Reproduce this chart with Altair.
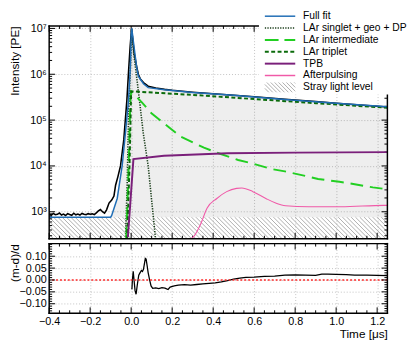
import altair as alt
import pandas as pd
import numpy as np

# ---------------- data ----------------
# measured data (black)
data_t = [-0.40, -0.39, -0.38, -0.37, -0.36, -0.35, -0.34, -0.33, -0.32, -0.31,
          -0.30, -0.29, -0.28, -0.27, -0.26, -0.25, -0.24, -0.23, -0.22, -0.21,
          -0.20, -0.19, -0.18, -0.17, -0.16, -0.15, -0.14, -0.13,
          -0.12, -0.108, -0.095, -0.084, -0.076, -0.064, -0.052, -0.036, -0.021,
          -0.012, -0.005, 0.002, 0.008, 0.015, 0.027, 0.035, 0.045, 0.060, 0.083,
          0.12, 0.163, 0.20, 0.30, 0.40, 0.50, 0.60, 0.75, 0.90, 1.00, 1.10, 1.25]
data_v = [8.9e2, 8.4e2, 9.2e2, 8.6e2, 8.8e2, 9.4e2, 8.5e2, 8.9e2, 8.3e2, 9.1e2,
          8.7e2, 8.4e2, 9.3e2, 8.6e2, 8.9e2, 8.5e2, 9.2e2, 8.8e2, 8.6e2, 9.1e2,
          8.8e2, 9.0e2, 8.7e2, 9.5e2, 1.04e3, 1.12e3, 1.0e3, 9.3e2,
          1.1e3, 1.55e3, 1.8e3, 2.2e3, 3.8e3, 6.0e3, 1.0e4, 3.7e4, 2.7e5,
          1.3e6, 4.0e6, 9.8e6, 5.6e6, 2.8e6, 1.45e6, 1.0e6, 7.9e5, 6.6e5, 5.5e5,
          5.0e5, 4.68e5, 4.47e5, 4.07e5, 3.76e5, 3.5e5, 3.24e5, 2.85e5, 2.54e5, 2.34e5, 2.16e5, 1.93e5]

# full fit (blue)
fit_t = [-0.40, -0.10, -0.095, -0.068, -0.044, -0.028, -0.013, -0.004, 0.0, 0.003,
         0.011, 0.027, 0.035, 0.060, 0.083, 0.163, 0.30, 0.50, 0.75, 1.00, 1.25]
fit_v = [7.6e2, 7.6e2, 8.3e2, 1.95e3, 1.0e4, 5.2e4, 2.7e5, 1.4e6, 7.2e6, 1.0e7,
         5.1e6, 1.4e6, 9.1e5, 6.2e5, 5.1e5, 4.6e5, 4.0e5, 3.47e5, 2.82e5, 2.34e5, 1.95e5]

# LAr singlet + geo + DP
sing_t = [-0.028, -0.020, -0.012, -0.004, 0.003, 0.011, 0.027, 0.040, 0.059, 0.083, 0.099, 0.118]
sing_v = [2.5e2, 3.2e3, 1.6e5, 1.3e6, 9.5e6, 3.2e6, 8.5e5, 2.8e5, 5.2e4, 1.0e4, 1.95e3, 2.8e2]

# LAr intermediate
inter_t = [-0.024, -0.012, -0.004, 0.0, 0.05, 0.099, 0.187, 0.241, 0.355, 0.418, 0.522,
           0.586, 0.689, 0.75, 0.854, 0.912, 1.016, 1.077, 1.179, 1.25]
inter_v = [2.5e2, 1.0e4, 2.8e5, 4.2e5, 2.5e5, 1.41e5, 6.8e4, 4.4e4, 2.5e4, 1.95e4, 1.35e4,
           1.15e4, 8.5e3, 7.6e3, 6.0e3, 5.2e3, 4.5e3, 4.1e3, 3.4e3, 3.1e3]

# LAr triplet
trip_t = [-0.020, -0.008, 0.0, 0.30, 0.60, 0.90, 1.25]
trip_v = [2.5e2, 1.0e4, 4.25e5, 3.55e5, 2.88e5, 2.34e5, 1.86e5]

# TPB
tpb_t = [-0.016, 0.011, 0.16, 0.47, 0.80, 1.25]
tpb_v = [2.8e2, 1.41e4, 1.66e4, 1.9e4, 1.95e4, 2.0e4]

# Afterpulsing
ap_t = [0.283, 0.307, 0.338, 0.370, 0.418, 0.466, 0.514, 0.540, 0.594, 0.657, 0.705,
        0.753, 0.865, 1.024, 1.232, 1.25]
ap_v = [2.5e2, 2.95e2, 5.25e2, 1.2e3, 1.95e3, 2.75e3, 3.24e3, 3.31e3, 2.75e3, 1.95e3, 1.55e3,
        1.35e3, 1.29e3, 1.29e3, 1.38e3, 1.38e3]

# stray light level
STRAY = 7.6e2

# residual (m-d)/d
res_t = [0.003, 0.004, 0.006, 0.010, 0.014, 0.019, 0.024, 0.030, 0.037, 0.043,
         0.050, 0.055, 0.060, 0.065, 0.069, 0.073, 0.078, 0.083, 0.090, 0.097,
         0.105, 0.120, 0.135, 0.150, 0.165, 0.180, 0.190, 0.210, 0.230, 0.260,
         0.290, 0.320, 0.350, 0.380, 0.410, 0.440, 0.470, 0.500, 0.530, 0.560,
         0.600, 0.650, 0.700, 0.750, 0.800, 0.850, 0.900, 0.930, 0.960, 1.000,
         1.050, 1.090, 1.150, 1.200, 1.250]
res_v = [-0.040, -0.035, 0.000, 0.036, 0.000, -0.045, -0.060, -0.020, 0.020, 0.030,
         0.040, 0.036, 0.045, 0.070, 0.091, 0.088, 0.060, 0.030, 0.000, -0.025,
         -0.035, -0.033, -0.036, -0.032, -0.034, -0.040, -0.030, -0.025, -0.022, -0.020,
         -0.022, -0.019, -0.016, -0.014, -0.012, -0.008, -0.003, 0.004, 0.008, 0.011,
         0.012, 0.015, 0.016, 0.020, 0.021, 0.020, 0.019, 0.025, 0.025, 0.024,
         0.023, 0.020, 0.020, 0.019, 0.018]

x_major = [-0.4, -0.2, 0.0, 0.2, 0.4, 0.6, 0.8, 1.0, 1.2]
y_major = [1e3, 1e4, 1e5, 1e6, 1e7]
r_major = [-0.10, -0.05, 0.0, 0.05, 0.10]

legend_labels = ["Full fit", "LAr singlet + geo + DP", "LAr intermediate", "LAr triplet",
                 "TPB", "Afterpulsing", "Stray light level"]

# ---------------- layout / style ----------------
W, HT, HB = 345, 217, 71
XD = [-0.4, 1.25]
YD = [258, 1.13e7]
RD = [-0.14, 0.153]
FONT = "Liberation Sans"

C_FIT = "#1f6db5"
C_SING = "#1a3d1a"
C_INT = "#22cf22"
C_TRIP = "#0b6b0b"
C_TPB = "#7a1f7a"
C_AP = "#f05aa8"

xs = alt.Scale(domain=XD, nice=False, zero=False)
ys = alt.Scale(type="log", domain=YD, nice=False)
rs = alt.Scale(domain=RD, nice=False, zero=False)

GRID = dict(grid=True, gridColor="#b4b4b4", gridDash=[1, 2], gridWidth=0.8,
            labelOverlap=False, labelFlush=False)
sup = "['⁰','¹','²','³','⁴','⁵','⁶','⁷','⁸','⁹']"

AX_XT = alt.Axis(values=x_major, labels=False, ticks=False, domain=False, title=None, **GRID)
AX_YT = alt.Axis(values=y_major, ticks=False, domain=False, labelPadding=3,
                 labelExpr="'10' + " + sup + "[round(log(datum.value)/LN10)]",
                 title="Intensity [PE]", titleAnchor="end", titleX=-35,
                 titleBaseline="middle", **GRID)
AX_XB = alt.Axis(values=x_major, ticks=False, domain=False, labelPadding=3,
                 labelExpr="replace(format(datum.value, '.1f'), '-', '−')",
                 title="Time [μs]", titleAnchor="end", titlePadding=2, **GRID)
AX_YB = alt.Axis(values=r_major, ticks=False, domain=False, labelPadding=3,
                 labelExpr="replace(format(datum.value, '.2f'), '-', '−')",
                 title="(m-d)/d", titleAnchor="end", titleX=-35,
                 titleBaseline="middle", **GRID)

x_minor = [round(v, 2) for v in np.arange(-0.35, 1.249, 0.05)
           if all(abs(v - m) > 1e-6 for m in x_major)]
y_minor = [k * 10 ** n for n in range(2, 7) for k in range(2, 10)
           if YD[0] <= k * 10 ** n <= YD[1]]
r_minor = [round(v, 2) for v in np.arange(-0.13, 0.151, 0.01)
           if all(abs(v - m) > 1e-6 for m in r_major)]

MAJ, MIN = 6, 3
one = pd.DataFrame({"k": [0]})


def xticks(vals, L, H, ax):
    df = pd.DataFrame({"v": vals})
    base = alt.Chart(df).mark_rule(color="black", strokeWidth=1)
    return [
        base.encode(x=alt.X("v:Q", scale=xs, axis=ax), y=alt.value(H - L), y2=alt.value(H)),
        base.encode(x=alt.X("v:Q", scale=xs, axis=ax), y=alt.value(0), y2=alt.value(L)),
    ]


def yticks(vals, L, scale, ax, field):
    df = pd.DataFrame({field: vals})
    base = alt.Chart(df).mark_rule(color="black", strokeWidth=1)
    return [
        base.encode(y=alt.Y(field + ":Q", scale=scale, axis=ax), x=alt.value(0), x2=alt.value(L)),
        base.encode(y=alt.Y(field + ":Q", scale=scale, axis=ax), x=alt.value(W - L), x2=alt.value(W)),
    ]


def frame(H):
    base = alt.Chart(one).mark_rule(color="black", strokeWidth=1.5, strokeCap="square")
    return [
        base.encode(x=alt.value(0), x2=alt.value(W), y=alt.value(0)),
        base.encode(x=alt.value(0), x2=alt.value(W), y=alt.value(H)),
        base.encode(x=alt.value(0), y=alt.value(0), y2=alt.value(H)),
        base.encode(x=alt.value(W), y=alt.value(0), y2=alt.value(H)),
    ]


def series(t, v, color, width, dash=None, interp="linear"):
    kw = dict(color=color, strokeWidth=width, clip=True, interpolate=interp)
    if dash:
        kw["strokeDash"] = dash
    return alt.Chart(pd.DataFrame({"t": t, "v": v})).mark_line(**kw).encode(
        x=alt.X("t:Q", scale=xs, axis=AX_XT),
        y=alt.Y("v:Q", scale=ys, axis=AX_YT),
    )


# grey area between stray level and full fit
area = alt.Chart(pd.DataFrame({"t": fit_t, "v": fit_v})).mark_area(
    fill="#000", fillOpacity=0.065, clip=True
).encode(
    x=alt.X("t:Q", scale=xs, axis=AX_XT),
    y=alt.Y("v:Q", scale=ys, axis=AX_YT),
    y2=alt.datum(STRAY),
)

# hatching of the stray-light region
ppu = W / (XD[1] - XD[0])
hat_h = (np.log10(STRAY) - np.log10(YD[0])) / (np.log10(YD[1]) - np.log10(YD[0])) * HT
dx = hat_h / ppu
hx = np.arange(XD[0] - dx, XD[1], 4.4 / ppu)
hatch = alt.Chart(pd.DataFrame({"t": hx, "b": hx + dx, "v": STRAY, "bot": YD[0]})).mark_rule(
    color="#8a8a8a", strokeWidth=0.7, clip=True
).encode(
    x=alt.X("t:Q", scale=xs, axis=AX_XT), x2="b:Q",
    y=alt.Y("v:Q", scale=ys, axis=AX_YT), y2="bot:Q",
)

top_layers = [area, hatch]
top_layers += xticks(x_major, MAJ, HT, AX_XT) + xticks(x_minor, MIN, HT, AX_XT)
top_layers += yticks(y_major, MAJ, ys, AX_YT, "v") + yticks(y_minor, MIN, ys, AX_YT, "v")
top_layers += [
    series(data_t, data_v, "black", 1.6),
    series(sing_t, sing_v, C_SING, 1.6, [1.3, 1.3]),
    series(inter_t, inter_v, C_INT, 2, [13, 7]),
    series(trip_t, trip_v, C_TRIP, 2, [4, 2.5]),
    series(tpb_t, tpb_v, C_TPB, 2),
    series(ap_t, ap_v, C_AP, 1.1, interp="monotone"),
    series(fit_t, fit_v, C_FIT, 1.5),
]
top_layers += frame(HT)

# legend (top right, opaque box partly above the frame)
SX0, SX1, TX = 220, 251, 259
BOX_X0, BOX_X1, BOX_Y1 = 214, 362, 70
rows = [-10 + 12.1 * i for i in range(7)]
top_layers.append(alt.Chart(one).mark_rect(fill="white").encode(
    x=alt.value(BOX_X0), x2=alt.value(BOX_X1), y=alt.value(-14), y2=alt.value(BOX_Y1)))
styles = [
    dict(color=C_FIT, strokeWidth=1.5),
    dict(color=C_SING, strokeWidth=1.6, strokeDash=[1.3, 1.3]),
    dict(color=C_INT, strokeWidth=2, strokeDash=[14, 6]),
    dict(color=C_TRIP, strokeWidth=2, strokeDash=[4, 2.5]),
    dict(color=C_TPB, strokeWidth=2),
    dict(color=C_AP, strokeWidth=1.5),
    None,
]
for lab, st, yy in zip(legend_labels, styles, rows):
    if st is not None:
        top_layers.append(alt.Chart(one).mark_rule(**st).encode(
            x=alt.value(SX0), x2=alt.value(SX1), y=alt.value(yy)))
    else:
        t0, b0 = yy - 5, yy + 5
        for x0 in range(SX0 - 10, SX1, 4):
            xa, ya, xb, yb = x0, t0, x0 + 10, b0
            if xa < SX0:
                ya += SX0 - xa
                xa = SX0
            if xb > SX1:
                yb -= xb - SX1
                xb = SX1
            top_layers.append(alt.Chart(one).mark_rule(color="#8a8a8a", strokeWidth=0.7).encode(
                x=alt.value(xa), x2=alt.value(xb), y=alt.value(ya), y2=alt.value(yb)))
    top_layers.append(alt.Chart(one).mark_text(
        text=lab, align="left", baseline="middle", font=FONT, fontSize=10.5, color="black"
    ).encode(x=alt.value(TX), y=alt.value(yy)))

top = alt.layer(*top_layers).properties(width=W, height=HT)

# ---------------- residual panel ----------------
res_line = alt.Chart(pd.DataFrame({"v": res_t, "r": res_v})).mark_line(
    color="black", strokeWidth=1.3, clip=True
).encode(
    x=alt.X("v:Q", scale=xs, axis=AX_XB),
    y=alt.Y("r:Q", scale=rs, axis=AX_YB),
)
zero = alt.Chart(pd.DataFrame({"r": [0.0]})).mark_rule(
    color="#ff2a2a", strokeDash=[2, 2], strokeWidth=1.5
).encode(y=alt.Y("r:Q", scale=rs, axis=AX_YB))

bot_layers = [res_line, zero]
bot_layers += xticks(x_major, MAJ, HB, AX_XB) + xticks(x_minor, MIN, HB, AX_XB)
bot_layers += yticks(r_major, MAJ, rs, AX_YB, "r") + yticks(r_minor, MIN, rs, AX_YB, "r")
bot_layers += frame(HB)
bottom = alt.layer(*bot_layers).properties(width=W, height=HB)

chart = alt.vconcat(top, bottom, spacing=1).properties(padding=0).configure_view(
    strokeWidth=0
).configure_axis(
    labelFont=FONT, labelFontSize=11, labelColor="black",
    titleFont=FONT, titleFontSize=12, titleFontWeight="normal", titleColor="black",
)

chart.save("out.html", embed_options={"renderer": "svg", "actions": False})
